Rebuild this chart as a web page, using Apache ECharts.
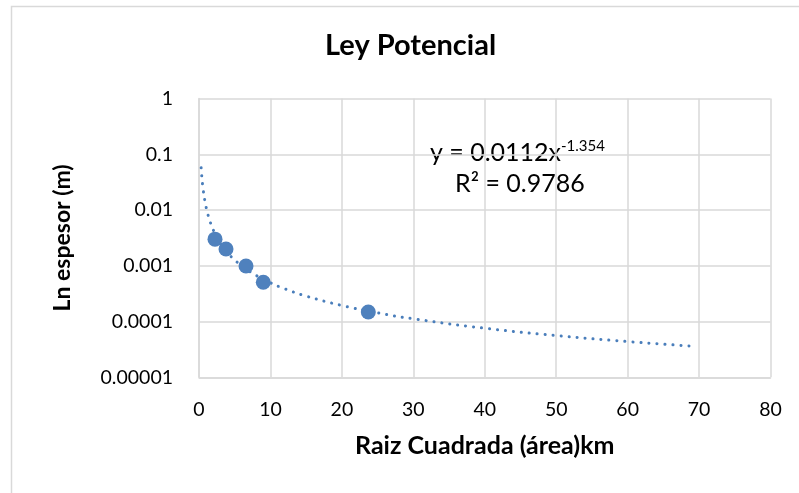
<!DOCTYPE html>
<html><head><meta charset="utf-8">
<script src="https://cdn.jsdelivr.net/npm/echarts@6/dist/echarts.min.js"></script>
<style>html,body{margin:0;padding:0;background:#fff}#c{width:799px;height:493px}</style>
</head><body><div id="c"></div>
<script>
// Observed data points (x = Raiz Cuadrada (área) km, y = espesor m)
const pointsX = [2.24, 3.78, 6.58, 9.0, 23.7];
const pointsY = [0.0030, 0.0020, 0.00099, 0.000506, 0.000148];
// Power trendline y = 0.0112 x^-1.354 (values as drawn)
const trendX = [0.3, 0.4, 0.5, 0.6, 0.8, 1, 1.25, 1.5, 2, 2.5, 3, 4, 5, 6, 7, 8, 10, 12, 15, 20, 25, 30, 40, 50, 60, 68.6];
const trendY = [0.05718, 0.03873, 0.02863, 0.02237, 0.01515, 0.0112, 0.00828, 0.006468, 0.004382, 0.003239, 0.002530, 0.001714, 0.001267, 0.000990, 0.000803, 0.000671, 0.000496, 0.000387, 0.000286, 0.000194, 0.0001434, 0.0001120, 0.0000759, 0.0000561, 0.0000438, 0.0000365];
const yTickLabels = ['0.00001', '0.0001', '0.001', '0.01', '0.1', '1'];
const xTicks = [0, 10, 20, 30, 40, 50, 60, 70, 80];

const FONT = 'Lato, "Open Sans", sans-serif';
const chart = echarts.init(document.getElementById('c'), null, {renderer: 'canvas'});
const gridCol = '#d9d9d9';
chart.setOption({
  backgroundColor: '#fff',
  animation: false,
  title: {
    text: 'Ley Potencial', left: 320, top: 26,
    textStyle: {fontFamily: FONT, fontWeight: 'bold', fontSize: 29, color: '#000'}
  },
  grid: {left: 199, right: 28.5, top: 98.5, bottom: 115.7},
  xAxis: {
    type: 'value', min: xTicks[0], max: xTicks[xTicks.length - 1], interval: 10,
    name: 'Raiz Cuadrada (área)km', nameLocation: 'middle', nameGap: 56,
    nameTextStyle: {fontFamily: FONT, fontWeight: 'bold', fontSize: 25, color: '#000'},
    axisLine: {show: true, lineStyle: {color: gridCol, width: 1.5}},
    axisTick: {show: false},
    axisLabel: {fontFamily: FONT, fontSize: 19.5, color: '#000', margin: 22},
    splitLine: {show: true, lineStyle: {color: gridCol, width: 1.5}}
  },
  yAxis: {
    type: 'log', logBase: 10, min: 0.00001, max: 1,
    name: 'Ln espesor (m)', nameLocation: 'middle', nameGap: 125, nameRotate: 90,
    nameTextStyle: {fontFamily: FONT, fontWeight: 'bold', fontSize: 23, color: '#000'},
    axisLine: {show: true, lineStyle: {color: gridCol, width: 1.5}},
    axisTick: {show: false},
    axisLabel: {
      fontFamily: FONT, fontSize: 19.5, color: '#000', margin: 26,
      formatter: function (v) {
        const i = Math.round(Math.log10(v)) + 5;
        return yTickLabels[i] !== undefined ? yTickLabels[i] : '';
      }
    },
    splitLine: {show: true, lineStyle: {color: gridCol, width: 1.5}}
  },
  series: [
    {
      type: 'line', data: trendX.map((x, i) => [x, trendY[i]]),
      showSymbol: false, smooth: true, z: 2,
      lineStyle: {color: '#4a7ebb', width: 3, type: [0.1, 7.9], cap: 'round'}
    },
    {
      type: 'scatter', data: pointsX.map((x, i) => [x, pointsY[i]]),
      symbol: 'circle', symbolSize: 15, z: 3,
      itemStyle: {color: '#4f81bd', opacity: 1}
    }
  ],
  graphic: [
    {type: 'rect', shape: {x: 11.5, y: 6.5, width: 900, height: 600}, style: {fill: null, stroke: '#d9d9d9', lineWidth: 1.5}, silent: true, z: -1},
    {type: 'text', left: 430, top: 140, style: {text: 'y = 0.0112x', font: '25px ' + FONT, fill: '#000'}},
    {type: 'text', left: 561, top: 139, style: {text: '-1.354', font: '15px ' + FONT, fill: '#000'}},
    {type: 'text', left: 455, top: 171, style: {text: 'R² = 0.9786', font: '25px ' + FONT, fill: '#000'}}
  ]
});
</script></body></html>
